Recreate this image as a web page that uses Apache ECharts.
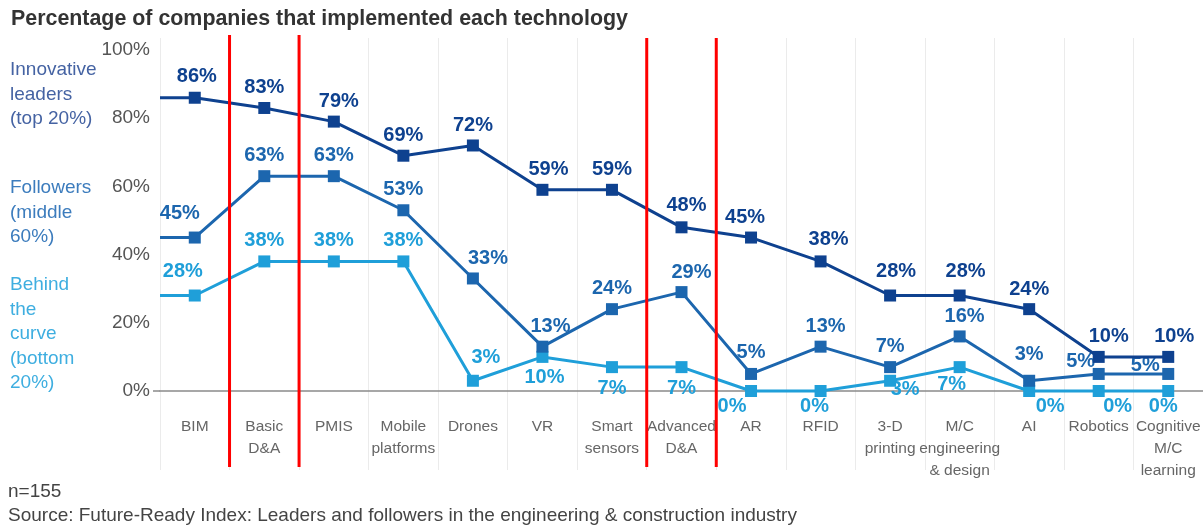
<!DOCTYPE html>
<html>
<head>
<meta charset="utf-8">
<script src="https://cdn.jsdelivr.net/npm/echarts@6/dist/echarts.min.js"></script>
<style>
  html, body { margin: 0; padding: 0; background: #fff; }
  #chart { width: 1203px; height: 529px; }
</style>
</head>
<body>
<div id="chart"></div>
<script>
// Technologies on the horizontal axis
const categories = ['BIM', 'Basic\nD&A', 'PMIS', 'Mobile\nplatforms', 'Drones', 'VR', 'Smart\nsensors',
  'Advanced\nD&A', 'AR', 'RFID', '3-D\nprinting', 'M/C\nengineering\n& design', 'AI', 'Robotics',
  'Cognitive\nM/C\nlearning'];

// Share of companies (%) in each group that implemented the technology
const leaders   = [86, 83, 79, 69, 72, 59, 59, 48, 45, 38, 28, 28, 24, 10, 10];
const followers = [45, 63, 63, 53, 33, 13, 24, 29, 5, 13, 7, 16, 3, 5, 5];
const behind    = [28, 38, 38, 38, 3, 10, 7, 7, 0, 0, 3, 7, 0, 0, 0];

// Y axis tick labels
const yTicks = [0, 20, 40, 60, 80, 100];

// Category boundaries marked with red rules
const highlightBounds = [0.5, 1.5, 6.5, 7.5];

const groupNames = ['Innovative\nleaders\n(top 20%)', 'Followers\n(middle\n60%)', 'Behind\nthe\ncurve\n(bottom\n20%)'];
const colors = ['#0e418f', '#1c66ae', '#1f9fd9'];
const legendColors = ['#4563a3', '#3c7cbd', '#3eaee0'];

// Per-point label placement: [position, dx, dy]
const labelTweaks = [
  { 0: ['top', 2, 0], 1: ['top', 0, 1], 2: ['top', 5, 1], 3: ['top', 0, 1], 4: ['top', 0, 1], 5: ['top', 6, 1],
    6: ['top', 0, 1], 7: ['top', 5, -1], 8: ['top', -6, 1], 9: ['top', 8, -1], 10: ['top', 6, -3],
    11: ['top', 6, -3], 12: ['top', 0, 1], 13: ['top', 10, 1], 14: ['top', 6, 1] },
  { 0: ['top', -15, -3], 4: ['top', 15, 1], 5: ['top', 8, 1], 7: ['top', 10, 1], 9: ['top', 5, 1],
    11: ['top', 5, 1], 12: ['top', 0, -5], 13: ['top', -18, 9], 14: ['top', -23, 13] },
  { 0: ['top', -12, -3], 4: ['top', 13, -2], 5: ['bottom', 2, 0], 6: ['bottom', 0, 0], 7: ['bottom', 0, 0],
    8: ['bottom', -19, -6], 9: ['bottom', -6, -6], 10: ['bottom', 15, -12], 11: ['bottom', -8, -4],
    12: ['bottom', 21, -6], 13: ['bottom', 19, -6], 14: ['bottom', -5, -6] }
];

const seriesValues = [leaders, followers, behind];
const seriesNames = ['Innovative leaders', 'Followers', 'Behind the curve'];
const FONT = 'Liberation Sans, Arial, sans-serif';

const chart = echarts.init(document.getElementById('chart'), null, { renderer: 'canvas' });

const lineSeries = seriesValues.map((vals, s) => ({
  name: seriesNames[s],
  type: 'line',
  xAxisIndex: 0,
  yAxisIndex: 0,
  z: 5 - s,
  symbol: 'rect',
  symbolSize: 12,
  lineStyle: { color: colors[s], width: 3 },
  itemStyle: { color: colors[s] },
  label: {
    show: true,
    position: 'top',
    distance: 5,
    formatter: '{c}%',
    color: colors[s],
    fontSize: 20,
    fontWeight: 'bold',
    fontFamily: FONT
  },
  data: vals.map((v, i) => {
    const t = labelTweaks[s][i];
    return t ? { value: v, label: { position: t[0], offset: [t[1], t[2]] } } : v;
  })
}));

// Lead-in segments from the plot edge to the first point of each line
const leadIns = seriesValues.map((vals, s) => ({
  type: 'line',
  xAxisIndex: 1,
  yAxisIndex: 0,
  z: 5 - s,
  symbol: 'none',
  silent: true,
  lineStyle: { color: colors[s], width: 3 },
  data: [[-0.5, vals[0]], [0, vals[0]]]
}));

chart.setOption({
  animation: false,
  title: {
    text: 'Percentage of companies that implemented each technology',
    left: 6,
    top: 4,
    textStyle: { fontSize: 21.4, fontWeight: 'bold', color: '#333', fontFamily: FONT }
  },
  grid: { left: 160, right: 0, top: 38, bottom: 59, outerBoundsMode: 'none', containLabel: false },
  xAxis: [
    {
      type: 'category',
      data: categories,
      boundaryGap: true,
      axisLine: { onZero: true, lineStyle: { color: '#8a8a8a', width: 1.5 } },
      axisTick: { show: false },
      splitLine: { show: true, lineStyle: { color: '#ebebeb', width: 1 } },
      axisLabel: {
        interval: 0,
        margin: -54,
        verticalAlign: 'top',
        color: '#666',
        fontSize: 15.5,
        lineHeight: 22,
        fontFamily: FONT
      }
    },
    { type: 'value', min: -0.5, max: 14.5, show: false }
  ],
  yAxis: {
    type: 'value',
    min: -23.17,
    max: 103.52,
    splitLine: { show: false },
    axisLine: { show: false, onZero: false },
    axisTick: { show: true, customValues: [0], length: 7, lineStyle: { color: '#8a8a8a', width: 1.5 } },
    axisLabel: {
      customValues: yTicks,
      formatter: '{value}%',
      color: '#555',
      fontSize: 19,
      margin: 10,
      fontFamily: FONT
    }
  },
  series: lineSeries.concat(leadIns)
});

// Group names on the left, footnotes, and red boundary rules
const legendY = [70, 188, 285];
const graphics = groupNames.map((txt, i) => ({
  type: 'text',
  left: 10,
  top: legendY[i] - 12,
  style: {
    text: txt,
    fill: legendColors[i],
    font: '19px "Liberation Sans", Arial, sans-serif',
    lineHeight: 24.4
  }
}));

graphics.push({
  type: 'text', left: 8, top: 482,
  style: { text: 'n=155', fill: '#444', font: '19px "Liberation Sans", Arial, sans-serif' }
});
graphics.push({
  type: 'text', left: 8, top: 506,
  style: {
    text: 'Source: Future-Ready Index: Leaders and followers in the engineering & construction industry',
    fill: '#444', font: '19px "Liberation Sans", Arial, sans-serif'
  }
});

highlightBounds.forEach((b, i) => {
  const x = chart.convertToPixel({ xAxisIndex: 1 }, b);
  graphics.push({
    type: 'line',
    z: 100,
    shape: { x1: x, y1: i < 2 ? 35 : 38, x2: x, y2: 467 },
    style: { stroke: '#ff0000', lineWidth: 3 }
  });
});

chart.setOption({ graphic: graphics });
</script>
</body>
</html>
